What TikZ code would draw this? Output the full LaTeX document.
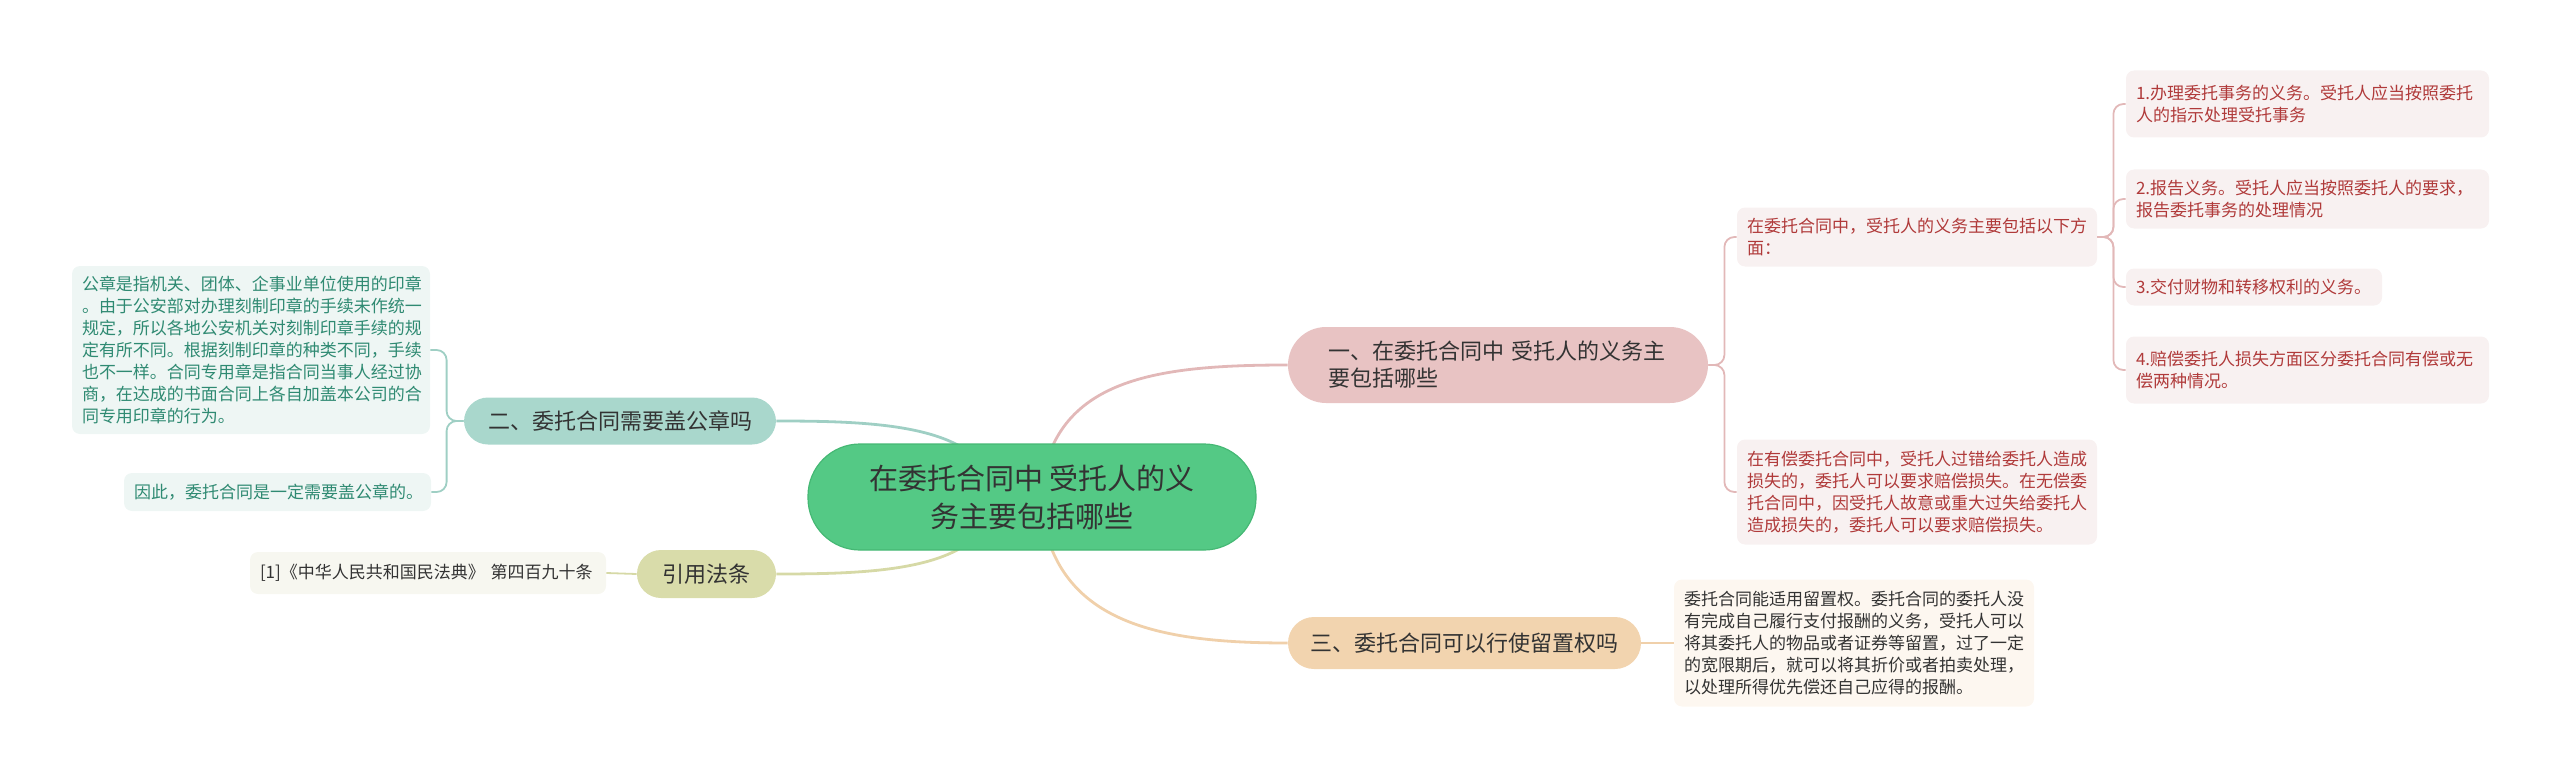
\documentclass[tikz,border=0pt]{standalone}
\usepackage{fontspec}
\setmainfont{Noto Sans CJK SC}
\usetikzlibrary{backgrounds}
\definecolor{cgreen}{HTML}{54C985}
\definecolor{cgreenb}{HTML}{45B874}
\definecolor{cpink}{HTML}{E8C3C3}
\definecolor{cpinkl}{HTML}{E2B8B8}
\definecolor{cteal}{HTML}{A9D7CC}
\definecolor{cteall}{HTML}{9FCFC4}
\definecolor{colive}{HTML}{D9DCAA}
\definecolor{colivel}{HTML}{D6D9A6}
\definecolor{cpeach}{HTML}{F2D4AF}
\definecolor{cpeachl}{HTML}{F0D0AA}
\definecolor{lpink}{HTML}{F8F1F1}
\definecolor{tpink}{HTML}{B03A3A}
\definecolor{lteal}{HTML}{EEF6F4}
\definecolor{tteal}{HTML}{2F8A72}
\definecolor{lolive}{HTML}{F7F7F0}
\definecolor{lpeach}{HTML}{FDF7F0}
\definecolor{tdark}{HTML}{333333}
\tikzset{
  x=0.5pt, y=-0.5pt,
  central/.style={fill=cgreen, draw=cgreenb, line width=0.6pt, rounded corners=26pt, align=center,
    text=tdark, font=\fontsize{14.5}{19}\selectfont, minimum width=224pt, minimum height=53pt, inner sep=0pt},
  branch/.style={rounded corners=12pt, text=tdark, font=\fontsize{11}{13.5}\selectfont, inner sep=0pt},
  leaf/.style={rounded corners=4pt, inner xsep=5pt, inner ysep=0pt, align=left,
    font=\fontsize{8.5}{11}\selectfont},
  bline/.style={line width=1.4pt},
  sline/.style={line width=0.9pt, rounded corners=5pt},
}
\begin{document}
\begin{tikzpicture}
\useasboundingbox (0,0) rectangle (2560,781);
% central
\node[central] (c) at (1032,497) {在委托合同中 受托人的义\\务主要包括哪些};
% branches
\node[branch, fill=cpink, rounded corners=19pt, minimum width=210pt, minimum height=38pt, text width=170pt, align=left] (b1) at (1498,365) {一、在委托合同中 受托人的义务主\\要包括哪些};
\node[branch, fill=cteal, minimum width=156pt, minimum height=23.5pt] (b2) at (620,421) {二、委托合同需要盖公章吗};
\node[branch, fill=colive, minimum width=69.5pt, minimum height=24pt] (b4) at (706.5,574) {引用法条};
\node[branch, fill=cpeach, rounded corners=13pt, minimum width=176.5pt, minimum height=26pt] (b3) at (1464.5,643) {三、委托合同可以行使留置权吗};
% leaves of b1
\node[leaf, fill=lpink, text=tpink, text width=170pt, minimum height=29.5pt] (l1) at (1917,237) {在委托合同中，受托人的义务主要包括以下方\\面：};
\node[leaf, fill=lpink, text=tpink, text width=170pt, minimum height=52.5pt] (l2) at (1917,492) {在有偿委托合同中，受托人过错给委托人造成\\损失的，委托人可以要求赔偿损失。在无偿委\\托合同中，因受托人故意或重大过失给委托人\\造成损失的，委托人可以要求赔偿损失。};
\node[leaf, fill=lpink, text=tpink, text width=171.5pt, minimum height=33.5pt] (m1) at (2307.5,104) {1.办理委托事务的义务。受托人应当按照委托\\人的指示处理受托事务};
\node[leaf, fill=lpink, text=tpink, text width=171.5pt, minimum height=29.5pt] (m2) at (2307.5,199) {2.报告义务。受托人应当按照委托人的要求，\\报告委托事务的处理情况};
\node[leaf, fill=lpink, text=tpink, text width=118pt, minimum height=18.5pt] (m3) at (2254,287) {3.交付财物和转移权利的义务。};
\node[leaf, fill=lpink, text=tpink, text width=171.5pt, minimum height=33.5pt] (m4) at (2307.5,370) {4.赔偿委托人损失方面区分委托合同有偿或无\\偿两种情况。};
% leaves of b2
\node[leaf, fill=lteal, text=tteal, text width=169pt, minimum height=84pt] (t1) at (251,350) {公章是指机关、团体、企事业单位使用的印章\\。由于公安部对办理刻制印章的手续未作统一\\规定，所以各地公安机关对刻制印章手续的规\\定有所不同。根据刻制印章的种类不同，手续\\也不一样。合同专用章是指合同当事人经过协\\商，在达成的书面合同上各自加盖本公司的合\\同专用印章的行为。};
\node[leaf, fill=lteal, text=tteal, text width=143.5pt, minimum height=19pt] (t2) at (277.5,492) {因此，委托合同是一定需要盖公章的。};
% leaf of b4
\node[leaf, fill=lolive, text=tdark, text width=168pt, minimum height=21pt] (o1) at (428,573) {[1]《中华人民共和国民法典》 第四百九十条};
% leaf of b3
\node[leaf, fill=lpeach, text=tdark, text width=170pt, minimum height=63.5pt] (p1) at (1854,643) {委托合同能适用留置权。委托合同的委托人没\\有完成自己履行支付报酬的义务，受托人可以\\将其委托人的物品或者证券等留置，过了一定\\的宽限期后，就可以将其折价或者拍卖处理，\\以处理所得优先偿还自己应得的报酬。};
% connectors
\begin{pgfonlayer}{background}
\coordinate (cr) at (1040,497);
\coordinate (cl) at (995,497);
\draw[bline, cpinkl] (cr) .. controls (1050,380) and (1150,365) .. (b1.west);
\draw[bline, cpeachl] (cr) .. controls (1050,620) and (1150,643) .. (b3.west);
\draw[bline, cteall] (cl) .. controls (988,425) and (880,421) .. (b2.east);
\draw[bline, colivel] (cl) .. controls (988,570) and (880,574) .. (b4.east);
\end{pgfonlayer}
\foreach \n in {l1,l2} \draw[sline, cpinkl] (b1.east) -- ++(16,0) |- (\n.west);
\foreach \n in {m1,m2,m3,m4} \draw[sline, cpinkl] (l1.east) -- ++(16,0) |- (\n.west);
\foreach \n in {t1,t2} \draw[sline, cteall] (b2.west) -- ++(-17,0) |- (\n.east);
\draw[sline, colivel] (b4.west) -- (o1.east);
\draw[sline, cpeachl] (b3.east) -- (p1.west);
\end{tikzpicture}
\end{document}
